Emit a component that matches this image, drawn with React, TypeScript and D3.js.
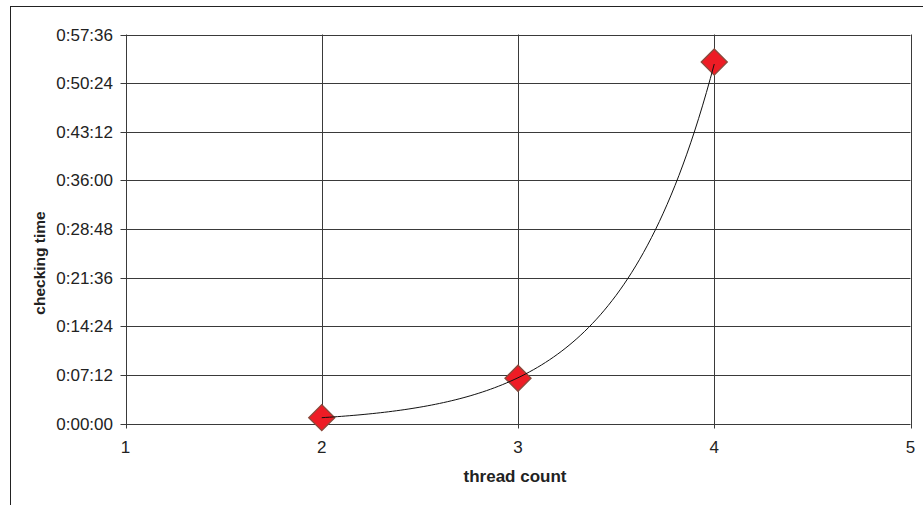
import React, { useEffect, useRef } from 'react';
import * as d3 from 'd3';

// thread count vs checking time (seconds)
const threadCounts = [2, 3, 4];
const checkSeconds = [52, 402, 3211];
const xTicks = [1, 2, 3, 4, 5];
const yTicks = [0, 432, 864, 1296, 1728, 2160, 2592, 3024, 3456];

const fmtTime = (s: number) => {
  const h = Math.floor(s / 3600);
  const m = Math.floor((s % 3600) / 60);
  const sec = s % 60;
  return `${h}:${String(m).padStart(2, '0')}:${String(sec).padStart(2, '0')}`;
};

const App: React.FC = () => {
  const svgRef = useRef<SVGSVGElement>(null);
  const width = 923;
  const height = 505;

  useEffect(() => {
    if (!svgRef.current) return;
    const svg = d3.select(svgRef.current);
    svg.selectAll('*').remove();

    const font = '"Liberation Sans", Arial, sans-serif';
    const gridColor = '#3a3a3a';

    const x = d3.scaleLinear().domain([1, 5]).range([125.5, 910.5]);
    const y = d3.scaleLinear().domain([0, 3456]).range([423.5, 34.5]);

    // outer chart frame (runs past the picture on right/bottom)
    svg.append('rect')
      .attr('x', 10.5).attr('y', 6.5)
      .attr('width', 1000).attr('height', 600)
      .attr('fill', 'white')
      .attr('stroke', '#222').attr('stroke-width', 1);

    // horizontal gridlines
    svg.append('g').selectAll('line')
      .data(yTicks)
      .join('line')
      .attr('x1', x(1) - 5).attr('x2', x(5))
      .attr('y1', d => Math.round(y(d)) + 0.5).attr('y2', d => Math.round(y(d)) + 0.5)
      .attr('stroke', gridColor).attr('stroke-width', 1);

    // vertical gridlines
    svg.append('g').selectAll('line')
      .data(xTicks)
      .join('line')
      .attr('x1', d => Math.round(x(d)) + 0.5).attr('x2', d => Math.round(x(d)) + 0.5)
      .attr('y1', y(3456)).attr('y2', y(0) + 5)
      .attr('stroke', gridColor).attr('stroke-width', 1);

    // y tick labels
    svg.append('g').selectAll('text')
      .data(yTicks)
      .join('text')
      .attr('x', 113)
      .attr('y', d => y(d))
      .attr('dy', '0.36em')
      .attr('text-anchor', 'end')
      .style('font-family', font)
      .style('font-size', '17px')
      .style('fill', '#222')
      .text(d => fmtTime(d));

    // x tick labels
    svg.append('g').selectAll('text')
      .data(xTicks)
      .join('text')
      .attr('x', d => x(d))
      .attr('y', 453)
      .attr('text-anchor', 'middle')
      .style('font-family', font)
      .style('font-size', '17px')
      .style('fill', '#222')
      .text(d => String(d));

    // axis titles
    svg.append('text')
      .attr('x', 515).attr('y', 482)
      .attr('text-anchor', 'middle')
      .style('font-family', font)
      .style('font-size', '17px')
      .style('font-weight', 'bold')
      .style('fill', '#222')
      .text('thread count');

    svg.append('text')
      .attr('transform', 'translate(45,263) rotate(-90)')
      .attr('text-anchor', 'middle')
      .style('font-family', font)
      .style('font-size', '15.5px')
      .style('font-weight', 'bold')
      .style('fill', '#222')
      .text('checking time');

    // markers
    const pts = threadCounts.map((t, i) => ({ t, v: checkSeconds[i] }));
    const diamond = d3.symbol().type(d3.symbolSquare).size(340);
    svg.append('g').selectAll('path')
      .data(pts)
      .join('path')
      .attr('d', diamond)
      .attr('transform', d => `translate(${x(d.t)},${y(d.v)}) rotate(45)`)
      .attr('fill', '#ee1c25')
      .attr('stroke', '#8a4a3c')
      .attr('stroke-width', 1.3);

    // exponential trendline (least squares on log values)
    const lx = threadCounts;
    const ly = checkSeconds.map(v => Math.log(v));
    const mx = d3.mean(lx) as number;
    const my = d3.mean(ly) as number;
    const b = d3.sum(lx.map((xv, i) => (xv - mx) * (ly[i] - my))) / d3.sum(lx.map(xv => (xv - mx) ** 2));
    const a = my - b * mx;
    const xs = d3.range(threadCounts[0], threadCounts[threadCounts.length - 1] + 0.001, 0.02);
    const line = d3.line<number>()
      .x(t => x(t))
      .y(t => y(Math.exp(a + b * t)))
      .curve(d3.curveMonotoneX);
    svg.append('path')
      .datum(xs)
      .attr('d', line)
      .attr('fill', 'none')
      .attr('stroke', '#111')
      .attr('stroke-width', 1);
  }, []);

  return (
    <svg
      ref={svgRef}
      width={width}
      height={height}
      style={{ position: 'absolute', left: 0, top: 0, background: 'white' }}
    />
  );
};

export default App;
